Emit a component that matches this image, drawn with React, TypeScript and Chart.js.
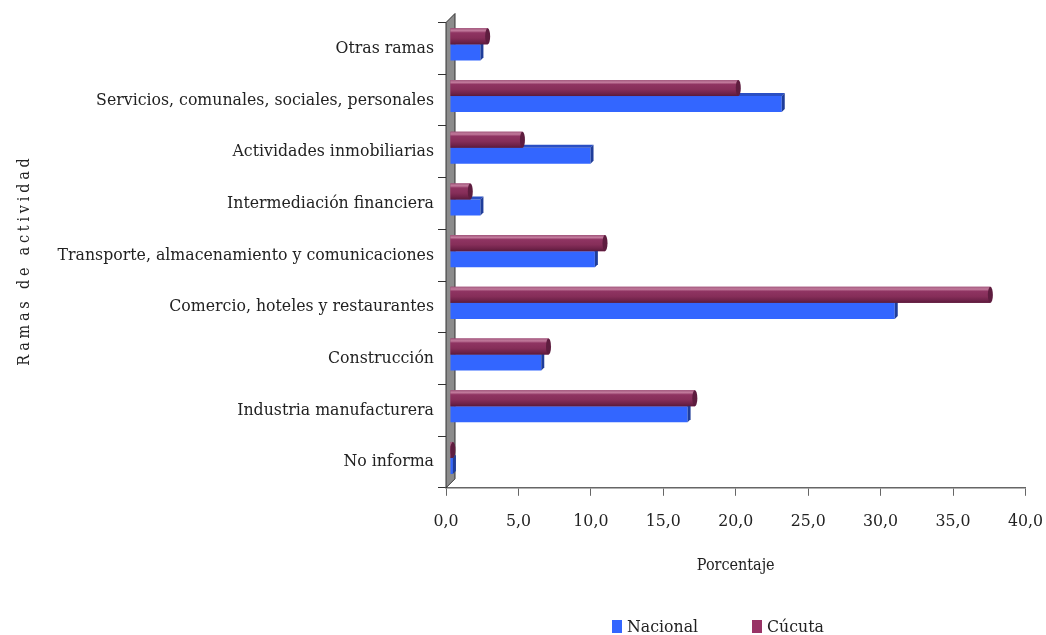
import React, { useEffect, useRef } from "react";
import { Chart, registerables } from "chart.js";

Chart.register(...registerables);

const categories = [
  "Otras ramas",
  "Servicios, comunales, sociales, personales",
  "Actividades inmobiliarias",
  "Intermediación financiera",
  "Transporte, almacenamiento y comunicaciones",
  "Comercio, hoteles y restaurantes",
  "Construcción",
  "Industria manufacturera",
  "No informa",
];

const nacional = [2.1, 22.9, 9.7, 2.1, 10.0, 30.7, 6.3, 16.4, 0.2];
const cucuta = [2.6, 19.9, 5.0, 1.4, 10.7, 37.3, 6.8, 16.9, 0.2];

const seriesNames = ["Nacional", "Cúcuta"];
const xTitle = "Porcentaje";
const yTitle = "Ramas de actividad";

const FONT = "'DejaVu Serif Condensed', 'DejaVu Serif', serif";
const BLUE = "#3366FF";
const MAROON = "#993366";
const DEPTH_X = 4;
const DEPTH_Y = -4;

const wallPlugin = {
  id: "wall3d",
  beforeDatasetsDraw(chart: any) {
    const { ctx, chartArea } = chart;
    const L = chartArea.left;
    const T = chartArea.top;
    const B = chartArea.bottom;
    const d = 9;
    ctx.save();
    ctx.beginPath();
    ctx.moveTo(L, B);
    ctx.lineTo(L, T);
    ctx.lineTo(L + d, T - d);
    ctx.lineTo(L + d, B - d);
    ctx.closePath();
    ctx.fillStyle = "#8c8c8c";
    ctx.fill();
    ctx.strokeStyle = "#333";
    ctx.lineWidth = 1;
    ctx.stroke();
    ctx.restore();
    // 3D depth offset for the bars drawn by the library
    ctx.save();
    ctx.translate(DEPTH_X, DEPTH_Y);
  },
  afterDatasetsDraw(chart: any) {
    const { ctx } = chart;
    const metaN = chart.getDatasetMeta(1);
    metaN.data.forEach((bar: any) => {
      const p = bar.getProps(["x", "y", "base", "height"], true);
      const top = p.y - p.height / 2;
      const bot = p.y + p.height / 2;
      ctx.beginPath();
      ctx.moveTo(p.base, top);
      ctx.lineTo(p.base + 3, top - 3);
      ctx.lineTo(p.x + 3, top - 3);
      ctx.lineTo(p.x, top);
      ctx.closePath();
      ctx.fillStyle = "#2a4fc4";
      ctx.fill();
      ctx.beginPath();
      ctx.moveTo(p.x, top);
      ctx.lineTo(p.x + 3, top - 3);
      ctx.lineTo(p.x + 3, bot - 3);
      ctx.lineTo(p.x, bot);
      ctx.closePath();
      ctx.fillStyle = "#1f3d99";
      ctx.fill();
    });
    const metaC = chart.getDatasetMeta(0);
    metaC.data.forEach((bar: any) => {
      const p = bar.getProps(["x", "y", "base", "height"], true);
      const top = p.y - p.height / 2;
      const bot = p.y + p.height / 2;
      const g = ctx.createLinearGradient(0, top, 0, bot);
      g.addColorStop(0, "#a35a7f");
      g.addColorStop(0.15, "#c27a9c");
      g.addColorStop(0.28, "#8f3462");
      g.addColorStop(0.6, "#862e59");
      g.addColorStop(0.85, "#6e2249");
      g.addColorStop(1, "#5a1a3a");
      ctx.fillStyle = g;
      const x0 = Math.min(p.base, p.x);
      const w = Math.abs(p.x - p.base);
      ctx.fillRect(x0, top, w, bot - top);
      ctx.beginPath();
      ctx.ellipse(p.x, p.y, 2.5, p.height / 2, 0, 0, Math.PI * 2);
      ctx.fillStyle = "#5e1d3f";
      ctx.fill();
    });
    ctx.restore();
  },
  afterDraw(chart: any) {
    const { ctx, chartArea } = chart;
    ctx.save();
    ctx.translate(17, (chartArea.top + chartArea.bottom) / 2 + 5);
    ctx.rotate(-Math.PI / 2);
    ctx.font = `16px ${FONT}`;
    (ctx as any).letterSpacing = "3.8px";
    ctx.fillStyle = "#222";
    ctx.textAlign = "center";
    ctx.textBaseline = "middle";
    ctx.fillText(yTitle, 0, 0);
    ctx.restore();
  },
};

export default function App() {
  const ref = useRef<HTMLCanvasElement>(null);
  useEffect(() => {
    if (!ref.current) return;
    const chart = new Chart(ref.current, {
      type: "bar",
      data: {
        labels: categories,
        datasets: [
          {
            label: seriesNames[1],
            data: cucuta,
            backgroundColor: MAROON,
            categoryPercentage: 0.62,
            barPercentage: 1,
          },
          {
            label: seriesNames[0],
            data: nacional,
            backgroundColor: BLUE,
            categoryPercentage: 0.62,
            barPercentage: 1,
          },
        ],
      },
      options: {
        indexAxis: "y",
        animation: false,
        responsive: true,
        maintainAspectRatio: false,
        layout: { padding: { top: 14, right: 2, bottom: 60, left: 0 } },
        plugins: {
          legend: { display: false },
          tooltip: { enabled: false },
        },
        scales: {
          x: {
            min: 0,
            max: 40,
            ticks: {
              stepSize: 5,
              color: "#222",
              padding: 15,
              font: { family: FONT, size: 17.5 },
              callback: (v: any) => Number(v).toFixed(1).replace(".", ","),
            },
            grid: {
              drawOnChartArea: false,
              drawTicks: true,
              tickLength: 8,
              color: "#666",
            },
            border: { color: "#666", width: 1.5 },
            title: {
              display: true,
              text: xTitle,
              color: "#222",
              font: { family: FONT, size: 16 },
              padding: { top: 9, bottom: 0 },
            },
          },
          y: {
            afterFit: (scale: any) => {
              scale.width = 438;
            },
            ticks: {
              color: "#222",
              padding: 4,
              font: { family: FONT, size: 17.5 },
            },
            grid: {
              drawOnChartArea: false,
              drawTicks: true,
              tickLength: 8,
              offset: true,
              color: "#333",
            },
            border: { color: "#222", width: 1 },
          },
        },
      },
      plugins: [wallPlugin],
    });
    return () => chart.destroy();
  }, []);

  const legendItem = (color: string, text: string, left: number) => (
    <div
      style={{
        position: "absolute",
        left,
        top: 616,
        display: "flex",
        alignItems: "center",
        fontFamily: FONT,
        fontSize: 17.5,
        color: "#222",
        whiteSpace: "nowrap",
      }}
    >
      <span
        style={{
          display: "inline-block",
          width: 10,
          height: 13,
          background: color,
          marginRight: 5,
        }}
      />
      {text}
    </div>
  );

  return (
    <div
      style={{
        position: "fixed",
        left: 0,
        top: 0,
        width: 1046,
        height: 635,
        overflow: "hidden",
        background: "#fff",
      }}
    >
      <div style={{ position: "absolute", left: 8, top: 8, width: 1050, height: 627 }}>
        <canvas ref={ref} />
      </div>
      {legendItem(BLUE, seriesNames[0], 612)}
      {legendItem(MAROON, seriesNames[1], 752)}
    </div>
  );
}
